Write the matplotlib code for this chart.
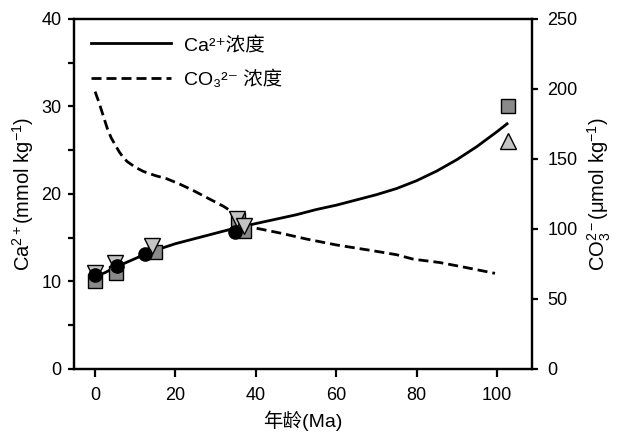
import matplotlib
matplotlib.use("Agg")
import matplotlib.pyplot as plt
from matplotlib.ticker import MultipleLocator

plt.rcParams['font.family'] = ['Liberation Sans', 'DejaVu Sans', 'Noto Sans CJK SC']
plt.rcParams['mathtext.fontset'] = 'custom'
plt.rcParams['mathtext.rm'] = 'Liberation Sans'
plt.rcParams['mathtext.it'] = 'Liberation Sans:italic'
plt.rcParams['font.size'] = 13

# model curves
ca_age = [0, 2.5, 5, 8, 12, 16, 20, 25, 30, 35, 40, 45, 50, 55, 60, 65, 70, 75, 80, 85, 90, 95, 100, 102.5]
ca_conc = [10.5, 11.0, 11.6, 12.2, 13.0, 13.7, 14.3, 14.9, 15.5, 16.1, 16.6, 17.1, 17.6, 18.2, 18.7,
           19.3, 19.9, 20.6, 21.5, 22.6, 23.9, 25.4, 27.1, 28.0]

co3_age = [0, 1, 2, 3, 4, 5, 6, 7, 8, 10, 12, 15, 17.8, 21, 24, 27, 30, 32, 33.6, 35, 36.5, 38, 40,
           46, 52.6, 60, 69.2, 75, 79.2, 85.8, 92, 99.5]
co3_conc = [198, 190, 181, 172, 165, 160, 155, 151, 148, 144, 141, 138, 135.8, 132, 128, 123.5, 119,
            116, 113, 110, 105, 102, 100.5, 97, 92.7, 88.5, 84.3, 81.5, 78.3, 75.9, 72.5, 68.2]

# data points
sq_age = [0, 5.2, 14.8, 35.5, 37, 102.8]
sq_ca = [10.0, 10.9, 13.4, 17.0, 15.7, 30.0]

tri_dn_age = [0, 5, 14.1, 35.2, 37]
tri_dn_ca = [10.9, 12.1, 14.0, 17.1, 16.3]

tri_up_age = [102.8]
tri_up_ca = [26.0]

circ_age = [0, 5.4, 12.4, 34.8]
circ_ca = [10.7, 11.8, 13.1, 15.6]

fig = plt.figure(figsize=(6.2, 4.37), dpi=100)
ax = fig.add_axes([0.119, 0.156, 0.739, 0.801])
ax2 = ax.twinx()

l1, = ax.plot(ca_age, ca_conc, color='black', lw=2, zorder=3, label='Ca²⁺浓度')
l2, = ax2.plot(co3_age, co3_conc, color='black', lw=2, dashes=(3.6, 1.8), label='CO₃²⁻ 浓度')

ax.plot(sq_age, sq_ca, 's', ms=10.5, mfc='#8a8a8a', mec='black', mew=1, zorder=4)
ax.plot(tri_dn_age, tri_dn_ca, 'v', ms=11, mfc='#c4c4c4', mec='black', mew=1, zorder=5)
ax.plot(tri_up_age, tri_up_ca, '^', ms=12, mfc='#c4c4c4', mec='black', mew=1, zorder=5)
ax.plot(circ_age, circ_ca, 'o', ms=9.5, mfc='black', mec='black', zorder=6)

ax.set_zorder(ax2.get_zorder() + 1)
ax.patch.set_visible(False)

ax.set_xlim(-5.3, 108.7)
ax.set_ylim(0, 40)
ax2.set_ylim(0, 250)
ax.set_xticks([0, 20, 40, 60, 80, 100])
ax.set_yticks([0, 10, 20, 30, 40])
ax.yaxis.set_minor_locator(MultipleLocator(5))
ax2.set_yticks([0, 50, 100, 150, 200, 250])

for a in (ax, ax2):
    for s in a.spines.values():
        s.set_linewidth(1.6)
ax.tick_params(axis='x', direction='out', length=6, width=1.6, pad=7, labelsize=13)
ax.tick_params(axis='y', which='major', direction='out', length=4, width=1.6, pad=5, labelsize=13)
ax.tick_params(axis='y', which='minor', direction='out', length=4, width=1.6)
ax2.tick_params(axis='y', direction='out', length=4, width=1.6, pad=7, labelsize=13)

ax.set_xlabel('年龄(Ma)', fontsize=14, labelpad=5)
ax.set_ylabel(r'Ca$^{2+}$(mmol kg$^{-1}$)', fontsize=14.5, labelpad=4)
ax2.set_ylabel(r'CO$_3^{2-}$(μmol kg$^{-1}$)', fontsize=14.5, labelpad=6)

ax.legend(handles=[l1, l2], loc='upper left', bbox_to_anchor=(0.0, 1.0), frameon=False,
          handlelength=4.1, handletextpad=0.65, labelspacing=0.85, fontsize=14)

fig.savefig('out.png', dpi=100)
